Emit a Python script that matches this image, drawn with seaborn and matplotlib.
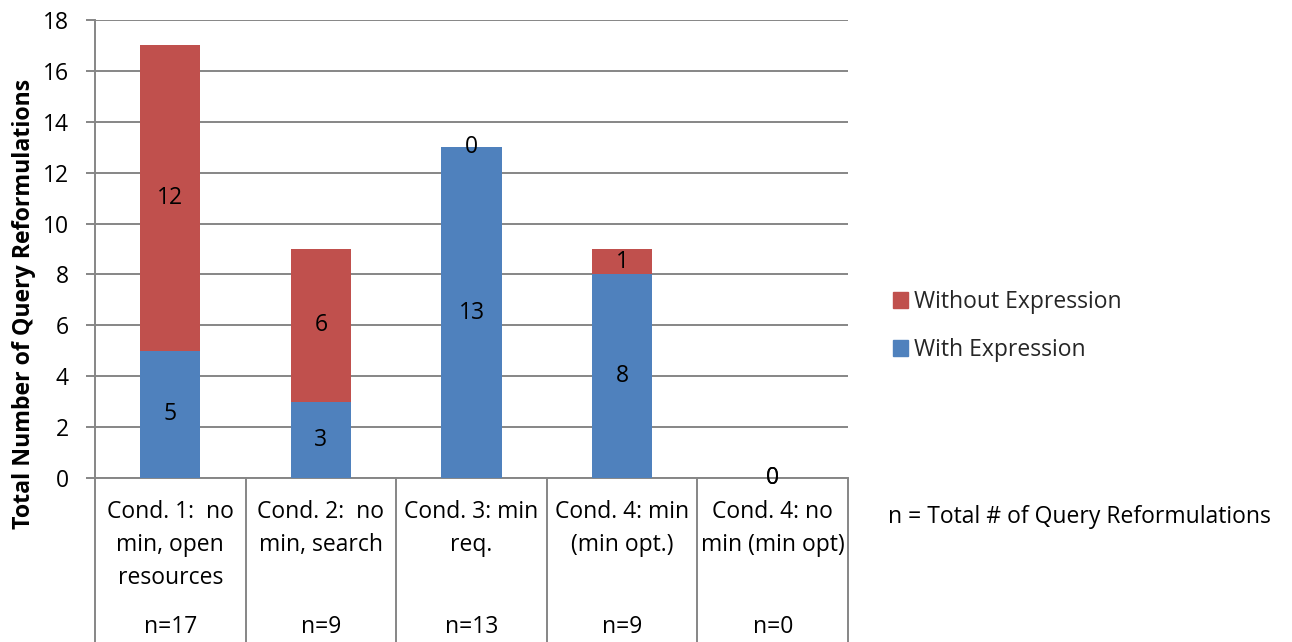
import matplotlib
matplotlib.use("Agg")
import matplotlib.pyplot as plt
import matplotlib.patches as mpatches
import matplotlib.transforms as mtransforms
import numpy as np
import seaborn as sns

categories = ["Cond. 1:  no\nmin, open\nresources", "Cond. 2:  no\nmin, search", "Cond. 3: min\nreq.",
              "Cond. 4: min\n(min opt.)", "Cond. 4: no\nmin (min opt)"]
with_expr = [5, 3, 13, 8, 0]
without_expr = [12, 6, 0, 1, 0]
series_names = ["Without Expression", "With Expression"]
y_ticks = [0, 2, 4, 6, 8, 10, 12, 14, 16, 18]
note_text = "n = Total # of Query Reformulations"

RED = "#C0504D"
BLUE = "#4F81BD"
GRID = "#868686"

sns.set_theme(style="white")
FONT = ["Open Sans", "DejaVu Sans"]
plt.rcParams["font.family"] = FONT

W, H = 1292, 642
fig = plt.figure(figsize=(W / 100, H / 100), dpi=100)
ax = fig.add_axes([95 / W, 1 - 478 / H, (848 - 95) / W, (478 - 20) / H])

xs = list(range(len(categories)))
sns.barplot(x=xs, y=with_expr, color=BLUE, saturation=1, width=0.4, linewidth=0, ax=ax, zorder=3)
sns.barplot(x=xs, y=without_expr, bottom=with_expr, color=RED, saturation=1, width=0.4, linewidth=0,
            ax=ax, zorder=3)

fs = 16.5
for i in xs:
    ax.text(i, with_expr[i] / 2, str(with_expr[i]), ha="center", va="center", fontsize=fs, color="black", zorder=5)
    ax.text(i, with_expr[i] + without_expr[i] / 2, str(without_expr[i]), ha="center", va="center",
            fontsize=fs, color="black", zorder=5)

ax.set_xlim(-0.5, len(categories) - 0.5)
ax.set_ylim(0, 18)
ax.set_yticks(y_ticks)
ax.set_yticklabels([str(t) for t in y_ticks], fontsize=fs, color="black")
ax.yaxis.grid(True, color=GRID, linewidth=1.4, zorder=0)
ax.set_axisbelow(True)
for s in ["top", "right"]:
    ax.spines[s].set_visible(False)
for s in ["left", "bottom"]:
    ax.spines[s].set_color(GRID)
    ax.spines[s].set_linewidth(1.4)
ax.tick_params(axis="y", which="major", length=6.5, width=1.4, color=GRID, pad=12.5, left=True)

# category table
ax.set_xticks(xs)
ax.set_xticklabels(categories, fontsize=fs, color="black", linespacing=1.5, va="top")
ax.tick_params(axis="x", which="major", length=0, pad=16)
ax.set_xticks(np.arange(-0.5, len(categories)), minor=True)
ax.tick_params(axis="x", which="minor", length=120, width=1.4, color=GRID, bottom=True)

trans = mtransforms.blended_transform_factory(ax.transData, ax.transAxes)
totals = [a + b for a, b in zip(with_expr, without_expr)]
for i in xs:
    ax.text(i, -149 / 458, f"n={totals[i]}", transform=trans, ha="center", va="center", fontsize=fs,
            color="black", clip_on=False)

ax.set_xlabel("")
ax.set_ylabel("Total Number of Query Reformulations", fontsize=16.7, fontweight="bold", color="black")
ax.yaxis.set_label_coords(-59 / 753, (478 - 304) / 458)

handles = [mpatches.Patch(color=RED), mpatches.Patch(color=BLUE)]
fig.legend(handles, series_names, loc="center left", bbox_to_anchor=(872 / W, 1 - 326 / H), frameon=False,
           fontsize=fs, handlelength=0.65, handleheight=0.65, handletextpad=0.3, labelspacing=1.05)

fig.text(888 / W, 1 - 517 / H, note_text, ha="left", va="center", fontsize=fs, color="black")

fig.savefig("out.png", dpi=100)
